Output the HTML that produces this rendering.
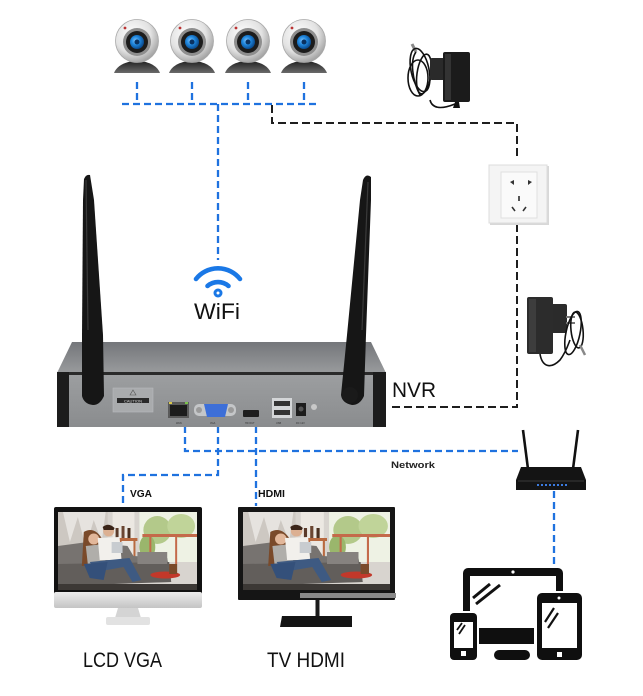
<!DOCTYPE html>
<html><head><meta charset="utf-8"><style>
html,body{margin:0;padding:0;background:#fff;}
svg{display:block;}
text{font-family:"Liberation Sans",sans-serif;}
</style></head><body>
<svg width="643" height="696" viewBox="0 0 643 696" xmlns="http://www.w3.org/2000/svg">
<defs>
<radialGradient id="head" cx="0.4" cy="0.35" r="0.7">
<stop offset="0" stop-color="#ffffff"/><stop offset="0.6" stop-color="#e2e2e2"/><stop offset="1" stop-color="#9a9a9a"/>
</radialGradient>
<linearGradient id="base" x1="0" y1="0" x2="0" y2="1">
<stop offset="0" stop-color="#222"/><stop offset="1" stop-color="#6a6a6a"/>
</linearGradient>
<radialGradient id="lens" cx="0.4" cy="0.4" r="0.6">
<stop offset="0" stop-color="#7cc4ff"/><stop offset="0.5" stop-color="#1f86dc"/><stop offset="1" stop-color="#0b4d92"/>
</radialGradient>
<linearGradient id="nvrtop" x1="0" y1="0" x2="0" y2="1">
<stop offset="0" stop-color="#74767a"/><stop offset="1" stop-color="#999b9d"/>
</linearGradient>
<linearGradient id="nvrfront" x1="0" y1="0" x2="0" y2="1">
<stop offset="0" stop-color="#9c9ea0"/><stop offset="1" stop-color="#8a8c8e"/>
</linearGradient>
<linearGradient id="silver" x1="0" y1="0" x2="0" y2="1">
<stop offset="0" stop-color="#ececec"/><stop offset="1" stop-color="#c4c4c4"/>
</linearGradient>
<symbol id="photo" viewBox="0 0 140 78" preserveAspectRatio="none">
<rect x="0" y="0" width="140" height="78" fill="#d8d4cf"/>
<rect x="0" y="0" width="50" height="50" fill="#cdc8c2"/>
<path d="M5 0 L12 30 L20 5 L28 35 L36 8 L44 30 L48 0 Z" fill="#e6e3df"/>
<rect x="55" y="0" width="22" height="45" fill="#ece8e2"/>
<rect x="82" y="0" width="58" height="50" fill="#eef2e4"/>
<ellipse cx="100" cy="18" rx="14" ry="14" fill="#b3c98a"/>
<ellipse cx="124" cy="14" rx="14" ry="12" fill="#c0d499"/>
<ellipse cx="90" cy="35" rx="8" ry="12" fill="#9ab66c"/>
<rect x="85" y="22" width="55" height="3" fill="#c46a4a"/>
<rect x="92" y="22" width="2" height="30" fill="#c46a4a"/>
<rect x="118" y="22" width="2" height="30" fill="#c46a4a"/>
<rect x="60" y="26" width="20" height="3" fill="#b86a40"/>
<rect x="62" y="28" width="2" height="18" fill="#b86a40"/>
<rect x="76" y="28" width="2" height="18" fill="#b86a40"/>
<rect x="58" y="16" width="3" height="10" fill="#5a3a2a"/>
<rect x="64" y="14" width="3" height="12" fill="#6b4632"/>
<rect x="70" y="16" width="3" height="10" fill="#4a3020"/>
<path d="M0 34 L30 30 L70 34 L76 44 L110 46 L114 70 L0 72 Z" fill="#777370"/>
<path d="M0 52 L112 50 L114 70 L0 74 Z" fill="#625e5b"/>
<rect x="80" y="40" width="30" height="12" fill="#86827f"/>
<path d="M26 20 Q36 14 44 26 L46 52 L24 54 Z" fill="#7a4a2a"/>
<circle cx="36" cy="27" r="5.5" fill="#e2b79a"/>
<path d="M28 34 L46 32 L48 50 L30 52 Z" fill="#b0aeaa"/>
<circle cx="51" cy="19" r="5.5" fill="#dcb092"/>
<path d="M45 15 Q51 10 57 16 L56 18 L46 18 Z" fill="#3a2418"/>
<path d="M40 26 L62 25 L64 48 L42 48 Z" fill="#f2f0ec"/>
<rect x="54" y="30" width="11" height="11" fill="#c8ccd0"/>
<path d="M32 50 L72 46 L84 68 L75 70 L66 55 L38 60 Z" fill="#3e5a82"/>
<path d="M26 52 L50 50 L46 68 L32 66 Z" fill="#34507a"/>
<ellipse cx="108" cy="63" rx="15" ry="3.5" fill="#c2382a"/>
<rect x="112" y="52" width="8" height="10" fill="#7a4a2a"/>
<rect x="0" y="72" width="140" height="6" fill="#3c3835"/>
</symbol>
</defs>

<!-- Cameras -->
<g id="cams">
<g transform="translate(137,0)">
<path d="M-23 73 C-20 65 -10 61 0 61 C10 61 20 65 23 73 Z" fill="url(#base)"/>
<circle cx="0" cy="41" r="21.5" fill="url(#head)" stroke="#a8a8a8" stroke-width="0.8"/>
<circle cx="0" cy="42" r="14" fill="#8e8e8e"/>
<circle cx="0" cy="42" r="11" fill="#1c1c1c"/>
<circle cx="0" cy="42" r="7" fill="url(#lens)"/>
<circle cx="0" cy="42" r="2.5" fill="#0a3160"/>
<circle cx="-12" cy="28" r="1.4" fill="#b33"/>
</g>
<g transform="translate(192,0)">
<path d="M-23 73 C-20 65 -10 61 0 61 C10 61 20 65 23 73 Z" fill="url(#base)"/>
<circle cx="0" cy="41" r="21.5" fill="url(#head)" stroke="#a8a8a8" stroke-width="0.8"/>
<circle cx="0" cy="42" r="14" fill="#8e8e8e"/>
<circle cx="0" cy="42" r="11" fill="#1c1c1c"/>
<circle cx="0" cy="42" r="7" fill="url(#lens)"/>
<circle cx="0" cy="42" r="2.5" fill="#0a3160"/>
<circle cx="-12" cy="28" r="1.4" fill="#b33"/>
</g>
<g transform="translate(248,0)">
<path d="M-23 73 C-20 65 -10 61 0 61 C10 61 20 65 23 73 Z" fill="url(#base)"/>
<circle cx="0" cy="41" r="21.5" fill="url(#head)" stroke="#a8a8a8" stroke-width="0.8"/>
<circle cx="0" cy="42" r="14" fill="#8e8e8e"/>
<circle cx="0" cy="42" r="11" fill="#1c1c1c"/>
<circle cx="0" cy="42" r="7" fill="url(#lens)"/>
<circle cx="0" cy="42" r="2.5" fill="#0a3160"/>
<circle cx="-12" cy="28" r="1.4" fill="#b33"/>
</g>
<g transform="translate(304,0)">
<path d="M-23 73 C-20 65 -10 61 0 61 C10 61 20 65 23 73 Z" fill="url(#base)"/>
<circle cx="0" cy="41" r="21.5" fill="url(#head)" stroke="#a8a8a8" stroke-width="0.8"/>
<circle cx="0" cy="42" r="14" fill="#8e8e8e"/>
<circle cx="0" cy="42" r="11" fill="#1c1c1c"/>
<circle cx="0" cy="42" r="7" fill="url(#lens)"/>
<circle cx="0" cy="42" r="2.5" fill="#0a3160"/>
<circle cx="-12" cy="28" r="1.4" fill="#b33"/>
</g>
</g>

<!-- Blue dashed lines -->
<g stroke="#1f72df" stroke-width="2.3" fill="none" stroke-dasharray="7 4">
<path d="M137 82 V104 M192 82 V104 M248 82 V104 M304 82 V104"/>
<path d="M122 104 H316"/>
<path d="M218 104 V260"/>
<path d="M185 426 V451 H518"/>
<path d="M218 426 V475 H123 V506"/>
<path d="M256 426 V506"/>
<path d="M554 491 V568"/>
</g>

<!-- Black dashed power lines -->
<g stroke="#1e1e1e" stroke-width="2" fill="none" stroke-dasharray="8 4">
<path d="M272 105 V123 H517 V160"/>
<path d="M517 224 V407 H388"/>
</g>

<!-- Power adapter 1 -->
<g>
<path d="M412 44 L416 52" stroke="#888" stroke-width="3"/>
<g fill="none" stroke="#111" stroke-width="1.6">
<ellipse cx="420" cy="70" rx="9" ry="22" transform="rotate(-12 420 70)"/>
<ellipse cx="424" cy="74" rx="7" ry="20" transform="rotate(8 424 74)"/>
<ellipse cx="418" cy="78" rx="10" ry="18"/>
<path d="M416 52 C410 60 412 80 420 95"/>
<path d="M430 100 C432 108 440 110 455 104"/>
</g>
<rect x="430" y="58" width="15" height="22" rx="2" fill="#2a2a2a"/>
<rect x="443" y="52" width="27" height="50" rx="2" fill="#1b1b1b"/>
<rect x="445" y="54" width="6" height="46" fill="#333"/>
<path d="M455 102 L453 108 L460 108 L459 102 Z" fill="#111"/>
</g>

<!-- Outlet -->
<g>
<rect x="490" y="166" width="59" height="59" fill="#d8d8d8"/>
<rect x="489" y="165" width="58" height="58" fill="#f4f4f4" stroke="#dcdcdc" stroke-width="1"/>
<rect x="501" y="172" width="36" height="46" fill="#fafafa" stroke="#e0e0e0" stroke-width="1"/>
<path d="M510 182 L514 180 L514 185 Z" fill="#333"/>
<path d="M528 180 L532 182 L528 185 Z" fill="#333"/>
<rect x="518" y="196" width="2" height="5" fill="#555"/>
<path d="M512 207 L515 211" stroke="#333" stroke-width="1.6"/>
<path d="M526 207 L523 211" stroke="#333" stroke-width="1.6"/>
</g>

<!-- Power adapter 2 -->
<g>
<rect x="550" y="304" width="17" height="29" rx="2" fill="#2b2b2b"/>
<rect x="566" y="316" width="9" height="2" fill="#777"/>
<rect x="566" y="322" width="9" height="2" fill="#777"/>
<rect x="527" y="297" width="26" height="57" rx="2" fill="#2c2c2c"/>
<rect x="529" y="299" width="7" height="53" fill="#3d3d3d"/>
<g fill="none" stroke="#111" stroke-width="1.6">
<ellipse cx="573" cy="333" rx="7" ry="22" transform="rotate(12 573 333)"/>
<ellipse cx="577" cy="330" rx="6" ry="18" transform="rotate(-6 577 330)"/>
<path d="M540 354 C542 366 550 370 560 360 C566 352 568 345 570 340"/>
</g>
<path d="M580 345 L585 355" stroke="#888" stroke-width="2.5"/>
</g>

<!-- WiFi -->
<g fill="none" stroke="#1a78e6" stroke-width="4.6" stroke-linecap="round">
<path d="M196 279 A28 28 0 0 1 240 279"/>
<path d="M207.5 286 A16 16 0 0 1 228.5 286"/>
</g>
<circle cx="218" cy="293" r="4.5" fill="#1a78e6"/>
<circle cx="218" cy="293" r="1.5" fill="#fff"/>
<text x="194" y="319" font-size="22" fill="#111" textLength="46" lengthAdjust="spacingAndGlyphs">WiFi</text>

<!-- NVR box -->
<g>
<path d="M72 342 L371 342 L386 373 L57 373 Z" fill="url(#nvrtop)"/>
<rect x="57" y="372" width="329" height="4" fill="#2a2a2a"/>
<rect x="57" y="375" width="329" height="52" fill="url(#nvrfront)"/>
<rect x="57" y="372" width="12" height="55" fill="#1c1c1c"/>
<rect x="373" y="372" width="13" height="55" fill="#1c1c1c"/>
<rect x="113" y="388" width="40" height="24" fill="#a9abad" stroke="#b8babc" stroke-width="0.6"/>
<rect x="117" y="398" width="32" height="5" fill="#2a2a2a"/>
<text x="133" y="402.3" font-size="4" fill="#ddd" text-anchor="middle">CAUTION</text>
<path d="M133 390 L136 395 L130 395 Z" fill="none" stroke="#555" stroke-width="0.6"/>
<rect x="168" y="402" width="21" height="16" fill="#5a5a5a"/>
<rect x="170" y="405" width="17" height="11" fill="#1c1c1c"/>
<rect x="169" y="402" width="3" height="2" fill="#d9c84a"/>
<rect x="185" y="402" width="3" height="2" fill="#7ac24a"/>
<rect x="194" y="404" width="42" height="12" rx="5" fill="#c4c6c8"/>
<circle cx="199" cy="410" r="3" fill="#9a9a9a"/>
<circle cx="231" cy="410" r="3" fill="#9a9a9a"/>
<path d="M204 404 L228 404 L225 417 L207 417 Z" fill="#3d6fd8"/>
<rect x="243" y="410" width="16" height="7" rx="1" fill="#1e1e1e"/>
<rect x="272" y="398" width="20" height="20" fill="#d4d6d8"/>
<rect x="274" y="401" width="16" height="5" fill="#333"/>
<rect x="274" y="410" width="16" height="5" fill="#333"/>
<rect x="296" y="403" width="10" height="13" fill="#1c1c1c"/>
<circle cx="301" cy="409" r="2.5" fill="#555"/>
<circle cx="314" cy="407" r="3" fill="#c8c8c8"/>
<g font-size="2.5" fill="#333">
<text x="176" y="424">WAN</text><text x="210" y="424">VGA</text><text x="245" y="424">HD OUT</text><text x="276" y="424">USB</text><text x="296" y="424">DC 12V</text>
</g>
</g>

<!-- Antennas -->
<path d="M84 179 Q86 174 90 175 L94 200 L103 335 L104 396 Q100 405 93 405 Q84 404 82 396 L82 335 L83 200 Z" fill="#161616"/>
<path d="M86 180 L88 330" stroke="#3a3a3a" stroke-width="1.2"/>
<path d="M363 180 Q366 173 371 177 L371 200 L366 335 L364 396 Q360 405 352 405 Q342 403 341 395 L347 335 L360 200 Z" fill="#161616"/>
<circle cx="350" cy="395" r="8" fill="#1a1a1a"/>
<path d="M368 182 L362 330" stroke="#3a3a3a" stroke-width="1.2"/>

<text x="392" y="397" font-size="21" fill="#111" textLength="44" lengthAdjust="spacingAndGlyphs">NVR</text>
<text x="391" y="468" font-size="9.5" font-weight="bold" fill="#222" textLength="44" lengthAdjust="spacingAndGlyphs">Network</text>
<text x="130" y="497" font-size="10" font-weight="bold" fill="#111" textLength="22" lengthAdjust="spacingAndGlyphs">VGA</text>
<text x="258" y="497" font-size="10" font-weight="bold" fill="#111" textLength="27" lengthAdjust="spacingAndGlyphs">HDMI</text>

<!-- LCD monitor -->
<g>
<rect x="54" y="507" width="148" height="88" rx="2" fill="#111"/>
<rect x="54" y="592" width="148" height="16" rx="2" fill="url(#silver)"/>
<use href="#photo" x="58" y="512" width="139" height="78"/>
<path d="M118 608 L138 608 L141 618 L115 618 Z" fill="#d4d4d4"/>
<rect x="106" y="617" width="44" height="8" rx="2" fill="#e2e2e2"/>
</g>

<!-- TV monitor -->
<g>
<rect x="238" y="507" width="157" height="93" rx="1" fill="#151515"/>
<use href="#photo" x="243" y="512" width="147" height="78"/>
<rect x="300" y="593" width="96" height="5" fill="#8a8a8a"/>
<rect x="315.5" y="600" width="4" height="17" fill="#1a1a1a"/>
<path d="M282 616 L352 616 L352 627 L280 627 Z" fill="#141414"/>
</g>

<text x="83" y="667" font-size="21" fill="#111" textLength="79" lengthAdjust="spacingAndGlyphs">LCD VGA</text>
<text x="267" y="667" font-size="21" fill="#111" textLength="78" lengthAdjust="spacingAndGlyphs">TV HDMI</text>

<!-- Router -->
<g>
<path d="M523 430 L528 469" stroke="#111" stroke-width="2.6"/>
<path d="M578 430 L573 469" stroke="#111" stroke-width="2.6"/>
<path d="M521 467 L581 467 L586 480 L586 490 L516 490 L516 480 Z" fill="#141414"/>
<path d="M518 481 L584 481" stroke="#3a3a3a" stroke-width="1"/>
<g fill="#3b7be0"><rect x="537" y="484" width="2" height="2"/><rect x="541" y="484" width="2" height="2"/><rect x="545" y="484" width="2" height="2"/><rect x="549" y="484" width="2" height="2"/><rect x="553" y="484" width="2" height="2"/><rect x="557" y="484" width="2" height="2"/><rect x="561" y="484" width="2" height="2"/><rect x="565" y="484" width="2" height="2"/></g>
</g>

<!-- Devices icon -->
<g>
<rect x="463" y="568" width="100" height="54" rx="5" fill="#0f0f0f"/>
<rect x="470" y="576" width="86" height="48" fill="#fff"/>
<circle cx="513" cy="572" r="1.6" fill="#fff"/>
<path d="M473 598 L490 584 M476 604 L500 585" stroke="#111" stroke-width="3"/>
<rect x="479" y="628" width="55" height="16" fill="#0f0f0f"/>
<rect x="494" y="650" width="36" height="10" rx="5" fill="#0f0f0f"/>
<rect x="448" y="611" width="31" height="51" rx="5" fill="#fff"/>
<rect x="450" y="613" width="27" height="47" rx="4" fill="#0f0f0f"/>
<rect x="454" y="622" width="19" height="26" fill="#fff"/>
<path d="M457 630 L462 623 M459 634 L465 625" stroke="#111" stroke-width="1.8"/>
<rect x="461" y="651" width="5" height="5" fill="#fff"/>
<rect x="535" y="591" width="49" height="71" rx="6" fill="#fff"/>
<rect x="537" y="593" width="45" height="67" rx="5" fill="#0f0f0f"/>
<rect x="542" y="603" width="35" height="45" fill="#fff"/>
<circle cx="559" cy="598" r="1.5" fill="#fff"/>
<path d="M545 622 L554 608 M548 628 L558 613" stroke="#111" stroke-width="2.2"/>
<rect x="557" y="652" width="5" height="5" fill="#fff"/>
</g>
</svg>
</body></html>
